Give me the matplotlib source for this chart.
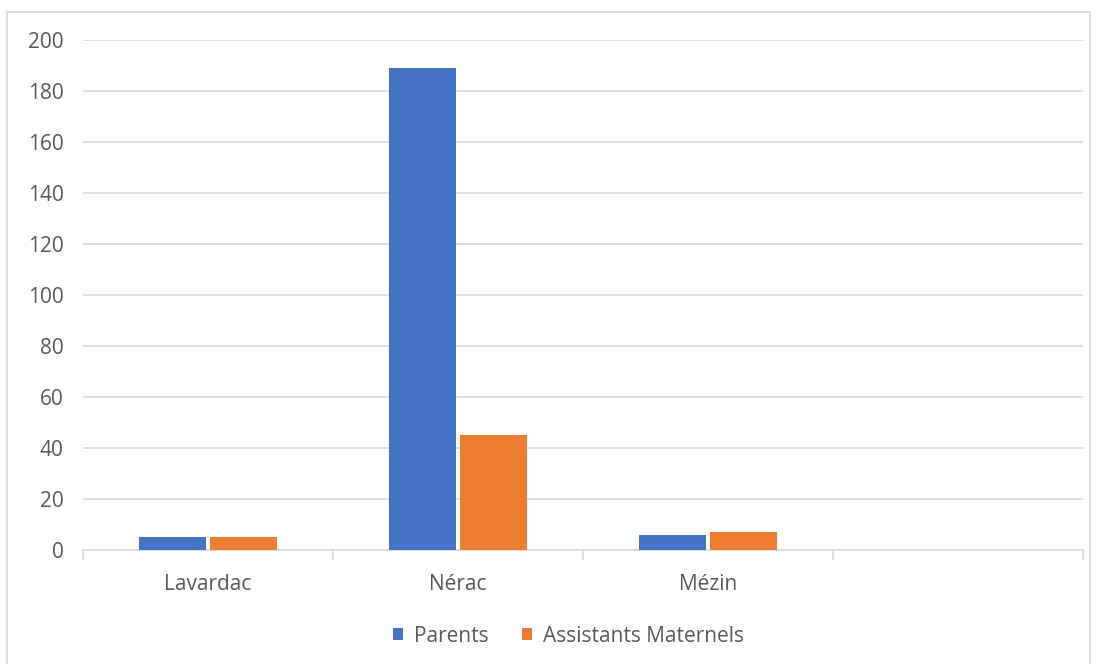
import matplotlib
matplotlib.use("Agg")
import matplotlib.pyplot as plt
from matplotlib.patches import Rectangle
import numpy as np

categories = ["Lavardac", "Nérac", "Mézin", ""]
parents = [5, 189, 6, 0]
assistants = [5, 45, 7, 0]
series_names = ["Parents", "Assistants Maternels"]
yticks = [0, 20, 40, 60, 80, 100, 120, 140, 160, 180, 200]

plt.rcParams['font.family'] = ['Open Sans', 'DejaVu Sans']

W, H = 1097, 664
fig = plt.figure(figsize=(W / 100, H / 100), dpi=100)
ax = fig.add_axes([83 / W, 1 - 550 / H, (1083 - 83) / W, (550 - 40) / H])

# outer border
fig.patches.append(Rectangle((7 / W, -0.05), (1090 - 7) / W, 1.05 - 11.5 / H,
                             transform=fig.transFigure, fill=False,
                             edgecolor="#d9d9d9", linewidth=1.2))

x = np.arange(len(categories))
bw = 0.268
gap = 0.016
ax.bar(x - (bw + gap) / 2, parents, width=bw, color="#4472C4", label=series_names[0], zorder=3)
ax.bar(x + (bw + gap) / 2, assistants, width=bw, color="#ED7D31", label=series_names[1], zorder=3)

ax.set_xlim(-0.5, len(categories) - 0.5)
ax.set_ylim(0, 200)
ax.set_yticks(yticks)
ax.yaxis.grid(True, color="#d9d9d9", linewidth=1.2, zorder=0)
ax.set_axisbelow(True)

for s in ["top", "right", "left"]:
    ax.spines[s].set_visible(False)
ax.spines["bottom"].set_color("#d9d9d9")
ax.spines["bottom"].set_linewidth(1.2)

ax.set_xticks(np.arange(-0.5, len(categories)), minor=False)
ax.set_xticklabels([])
ax.tick_params(axis="x", which="major", length=7, color="#d9d9d9", width=1.2)
ax.set_xticks(x, minor=True)
ax.set_xticklabels(categories, minor=True)
ax.tick_params(axis="x", which="minor", length=0, pad=17, labelsize=15, labelcolor="#595959")
ax.tick_params(axis="y", length=0, pad=14, labelsize=15, labelcolor="#595959")

leg = fig.legend(loc="center", bbox_to_anchor=(0.518, 1 - 636 / H), ncol=2, frameon=False,
                 fontsize=15, handlelength=0.5, handleheight=0.5, columnspacing=1.6,
                 handletextpad=0.5, labelcolor="#595959")

fig.savefig("out.png", dpi=100)
